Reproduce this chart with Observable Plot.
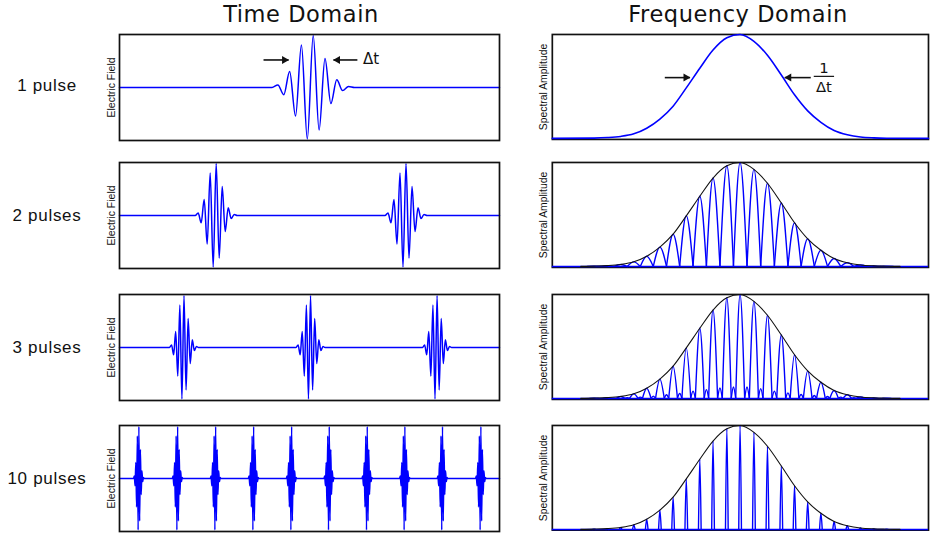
<!DOCTYPE html>
<html>
<head>
<meta charset="utf-8">
<script src="https://cdn.jsdelivr.net/npm/d3@7"></script>
<script src="https://cdn.jsdelivr.net/npm/@observablehq/plot@0.6"></script>
<style>
  body { margin: 0; background: #fff; }
  #chart { position: relative; width: 930px; height: 533px; overflow: hidden; background: #fff; }
  .title { position: absolute; font-family: "DejaVu Sans", Verdana, sans-serif; font-size: 22.5px;
           letter-spacing: 0.55px; line-height: 1; white-space: nowrap; transform: translateX(-50%); color: #111; }
  .rowlabel { position: absolute; font-family: "Liberation Sans", Arial, sans-serif; font-size: 17px;
              letter-spacing: 0.7px; line-height: 1; white-space: nowrap; transform: translate(-50%, -50%); color: #111; }
  .panel { position: absolute; }
  .panel svg { display: block; }
</style>
</head>
<body>
<div id="chart"></div>
<script>
// ---- text ----
const rowLabels = ["1 pulse", "2 pulses", "3 pulses", "10 pulses"];
const columnTitles = ["Time Domain", "Frequency Domain"];
const fieldAxisLabel = "Electric Field";
const spectrumAxisLabel = "Spectral Amplitude";

// ---- time domain: time runs 0–100 across a panel, field is normalised to ±1 ----
const pulseCenters = [
  [50.2],
  [25.05, 75.0],
  [16.7, 50.0, 83.3],
  [5.0, 15.2, 25.2, 35.2, 45.2, 55.1, 65.1, 75.0, 84.9, 95.0]
];
// spacing between successive field extrema (half a carrier cycle) in each row
const halfPeriods = [1.55, 0.79, 0.545, 0.2];
// field at each extremum of one pulse, left to right
const lobeAmplitudes = [0.05, -0.14, 0.31, -0.55, 0.82, -0.99, 1.0, -0.82, 0.56, -0.31, 0.15, -0.06, 0.02];
const lobeCenterIndex = 5.5;

// ---- frequency domain: frequency runs 0–100, amplitude 0–1 ----
const combFreqs = [11.1, 14.65, 18.16, 21.67, 25.09, 28.6, 32.11, 35.61, 39.21, 42.72, 46.4, 49.91,
                   53.6, 57.19, 60.88, 64.39, 67.89, 71.4, 74.91, 78.42, 81.93, 85.44, 88.9];
const combHeights = [0.003, 0.008, 0.019, 0.044, 0.098, 0.186, 0.31, 0.486, 0.675, 0.85, 0.968, 1.0,
                     0.934, 0.80, 0.61, 0.42, 0.265, 0.155, 0.076, 0.035, 0.013, 0.005, 0.002];
// secondary maxima between neighbouring comb lines (3-pulse spectrum)
const sideLobeHeights = [0.0, 0.002, 0.006, 0.012, 0.022, 0.035, 0.047, 0.07, 0.085, 0.10, 0.11,
                         0.11, 0.094, 0.07, 0.053, 0.038, 0.028, 0.019, 0.012, 0.006, 0.002, 0.0];
// fraction of the line spacing where each comb line first drops to zero
const lineHalfWidths = [null, 0.5, 0.33, 0.1];

// ---- width annotations on the single pulse ----
const timeArrows = [{from: 37.9, to: 44.5}, {from: 62.6, to: 56.3}];
const timeArrowLevel = 0.53;
const timeWidthText = [{x: 64.1, y: 0.54, text: "Δt"}];
const freqArrows = [{from: 29.9, to: 36.6}, {from: 68.7, to: 61.8}];
const freqArrowLevel = 0.585;
const freqWidthText = [{x: 72.2, y: 0.671, text: "1"}, {x: 72.2, y: 0.493, text: "Δt"}];
const freqFractionBar = [{from: 69.5, to: 74.9, y: 0.597}];

// ---- layout ----
const blue = "#0000ff";
const ink = "#111";
const innerW = 380, innerH = 106;
const M = {left: 20, right: 2, top: 2, bottom: 2};
const frameLefts = [118.5, 552];
const frameTops = [34, 162, 294, 424.5];
const labelCenters = [84.5, 215, 346.5, 477.5];

const chart = document.getElementById("chart");

columnTitles.forEach((t, i) => {
  const d = document.createElement("div");
  d.className = "title";
  d.textContent = t;
  d.style.left = (i === 0 ? 301 : 738) + "px";
  d.style.top = "2.5px";
  chart.appendChild(d);
});

rowLabels.forEach((t, i) => {
  const d = document.createElement("div");
  d.className = "rowlabel";
  d.textContent = t;
  d.style.left = "47px";
  d.style.top = labelCenters[i] + "px";
  chart.appendChild(d);
});

function pulseTrain(centers, hp) {
  const pts = [{t: 0, e: 0}];
  for (const c of centers) {
    pts.push({t: c - (lobeCenterIndex + 1) * hp, e: 0});
    lobeAmplitudes.forEach((a, i) => pts.push({t: c + (i - lobeCenterIndex) * hp, e: a}));
    pts.push({t: c + (lobeAmplitudes.length - lobeCenterIndex) * hp, e: 0});
  }
  pts.push({t: 100, e: 0});
  return pts;
}

function envelopePoints(fullWidth) {
  const n = combFreqs.length;
  const step = combFreqs[1] - combFreqs[0];
  const pts = combFreqs.map((f, i) => ({f, a: combHeights[i]}));
  const start = fullWidth ? 0 : combFreqs[0] - step;
  const end = fullWidth ? 100 : combFreqs[n - 1] + step;
  return [{f: start, a: 0}, ...pts, {f: end, a: 0}];
}

function combProfile(row) {
  const frac = lineHalfWidths[row];
  const n = combFreqs.length;
  const pts = [];
  combFreqs.forEach((f, i) => {
    const gapL = i > 0 ? f - combFreqs[i - 1] : combFreqs[1] - combFreqs[0];
    const gapR = i < n - 1 ? combFreqs[i + 1] - f : f - combFreqs[i - 1];
    const id = "line" + i;
    pts.push({f: f - gapL * frac, a: 0, id}, {f, a: combHeights[i], id}, {f: f + gapR * frac, a: 0, id});
  });
  if (row === 2) {
    sideLobeHeights.forEach((s, j) => {
      if (!s) return;
      const a = combFreqs[j], b = combFreqs[j + 1], g = b - a;
      const id = "side" + j;
      pts.push({f: a + g * frac, a: 0, id}, {f: (a + b) / 2, a: s, id}, {f: b - g * frac, a: 0, id});
    });
  }
  return pts;
}

function widthArrows(list, level) {
  const right = list.filter(d => d.to > d.from);
  const left = list.filter(d => d.to < d.from);
  return [
    Plot.link(list, {x1: "from", x2: "to", y1: () => level, y2: () => level, stroke: ink, strokeWidth: 1.6}),
    Plot.dot(right, {x: "to", y: () => level, symbol: "triangle", r: 3, fill: ink, stroke: null, rotate: 90, dx: -4.2}),
    Plot.dot(left, {x: "to", y: () => level, symbol: "triangle", r: 3, fill: ink, stroke: null, rotate: -90, dx: 4.2})
  ];
}

function axisLabel(text, dx) {
  return Plot.text([text], {
    frameAnchor: "left", text: d => d, rotate: -90, dx,
    textAnchor: "middle", lineAnchor: "middle",
    fontSize: 10.5, fontFamily: "Liberation Sans, Arial, sans-serif", fill: ink
  });
}

function place(svg, col, row) {
  const wrap = document.createElement("div");
  wrap.className = "panel";
  wrap.style.left = (frameLefts[col] - M.left) + "px";
  wrap.style.top = (frameTops[row] - M.top) + "px";
  wrap.appendChild(svg);
  chart.appendChild(wrap);
}

function timePanel(row) {
  const marks = [
    Plot.line(pulseTrain(pulseCenters[row], halfPeriods[row]), {
      x: "t", y: "e", curve: "monotone-x", stroke: blue, strokeWidth: 1.5
    }),
    Plot.frame({stroke: ink, strokeWidth: 1.7}),
    axisLabel(fieldAxisLabel, -8)
  ];
  if (row === 0) {
    marks.push(...widthArrows(timeArrows, timeArrowLevel));
    marks.push(Plot.text(timeWidthText, {
      x: "x", y: "y", text: "text", textAnchor: "start", fontSize: 15,
      fontFamily: "DejaVu Sans, Verdana, sans-serif", fill: ink
    }));
  }
  return Plot.plot({
    width: M.left + innerW + M.right, height: M.top + innerH + M.bottom,
    marginLeft: M.left, marginRight: M.right, marginTop: M.top, marginBottom: M.bottom,
    x: {domain: [0, 100], axis: null},
    y: {domain: [-1.02, 1.02], axis: null},
    marks
  });
}

function spectrumPanel(row) {
  const marks = [Plot.frame({stroke: ink, strokeWidth: 1.7})];
  if (row === 0) {
    marks.push(Plot.line(envelopePoints(true), {
      x: "f", y: "a", curve: "monotone-x", stroke: blue, strokeWidth: 1.6
    }));
    marks.push(...widthArrows(freqArrows, freqArrowLevel));
    marks.push(Plot.link(freqFractionBar, {x1: "from", x2: "to", y1: "y", y2: "y", stroke: ink, strokeWidth: 1.2}));
    marks.push(Plot.text(freqWidthText, {
      x: "x", y: "y", text: "text", fontSize: 15,
      fontFamily: "DejaVu Sans, Verdana, sans-serif", fill: ink
    }));
  } else {
    marks.push(Plot.ruleY([0], {stroke: blue, strokeWidth: 1.5}));
    marks.push(Plot.line(combProfile(row), {
      x: "f", y: "a", z: "id", curve: "monotone-x", stroke: blue, strokeWidth: 1.4
    }));
    marks.push(Plot.line(envelopePoints(false), {
      x: "f", y: "a", curve: "monotone-x", stroke: ink, strokeWidth: 1.1
    }));
  }
  marks.push(axisLabel(spectrumAxisLabel, -8.5));
  return Plot.plot({
    width: M.left + innerW + M.right, height: M.top + innerH + M.bottom,
    marginLeft: M.left, marginRight: M.right, marginTop: M.top, marginBottom: M.bottom,
    x: {domain: [0, 100], axis: null},
    y: {domain: [0, 1], axis: null, insetBottom: 1},
    marks
  });
}

rowLabels.forEach((_, row) => {
  place(timePanel(row), 0, row);
  place(spectrumPanel(row), 1, row);
});
</script>
</body>
</html>
